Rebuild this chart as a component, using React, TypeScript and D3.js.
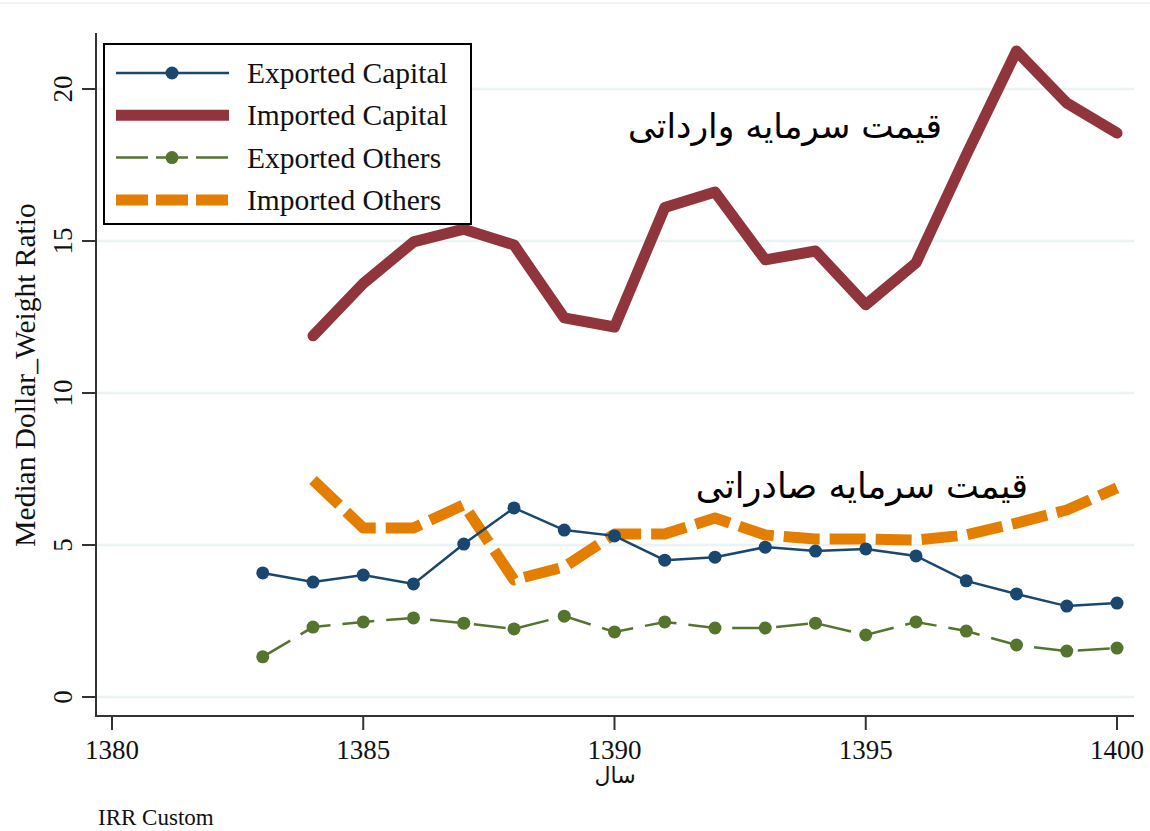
import React from "react";
import * as d3 from "d3";

const years = [1383,1384,1385,1386,1387,1388,1389,1390,1391,1392,1393,1394,1395,1396,1397,1398,1399,1400];
const exportedCapital = [4.08,3.78,4.01,3.72,5.03,6.22,5.49,5.3,4.5,4.6,4.93,4.8,4.87,4.64,3.82,3.39,2.99,3.09];
const exportedOthers = [1.32,2.3,2.47,2.6,2.43,2.24,2.66,2.14,2.47,2.27,2.27,2.43,2.04,2.47,2.17,1.71,1.51,1.61];
const importYears = [1384,1385,1386,1387,1388,1389,1390,1391,1392,1393,1394,1395,1396,1397,1398,1399,1400];
const importedCapital = [11.88,13.6,14.97,15.39,14.87,12.47,12.17,16.1,16.61,14.38,14.67,12.9,14.28,17.83,21.25,19.54,18.55];
const importedOthers = [7.14,5.56,5.56,6.32,3.85,4.28,5.36,5.36,5.89,5.33,5.2,5.2,5.16,5.33,5.72,6.15,6.88];
const xTicks = [1380,1385,1390,1395,1400];
const yTicks = [0,5,10,15,20];
const legendLabels = ["Exported Capital","Imported Capital","Exported Others","Imported Others"];

const W = 1150, H = 831;
const x = d3.scaleLinear().domain([1380, 1400]).range([112, 1117]);
const y = d3.scaleLinear().domain([0, 20]).range([697, 89]);
const serif = "'Liberation Serif', 'Times New Roman', serif";
const sans = "'DejaVu Sans', 'Noto Sans', sans-serif";

const C = { blue: "#1a476f", maroon: "#90353b", green: "#55752f", orange: "#e37e00" };

export default function App() {
  const line = d3.line<[number, number]>().x(d => x(d[0])).y(d => y(d[1]));
  const ec = years.map((yr, i) => [yr, exportedCapital[i]] as [number, number]);
  const eo = years.map((yr, i) => [yr, exportedOthers[i]] as [number, number]);
  const ic = importYears.map((yr, i) => [yr, importedCapital[i]] as [number, number]);
  const io = importYears.map((yr, i) => [yr, importedOthers[i]] as [number, number]);

  const axisLeft = 96, axisBottom = 716, axisTop = 33, axisRight = 1134;

  const legendStyles = [
    { color: C.blue, width: 2.5, dash: undefined as string | undefined, marker: 6.5 },
    { color: C.maroon, width: 11, dash: undefined, marker: 0 },
    { color: C.green, width: 2.5, dash: "32 8", marker: 6.5 },
    { color: C.orange, width: 11, dash: "32 8", marker: 0 },
  ];

  return (
    <svg width={W} height={H} style={{ position: "absolute", left: 0, top: 0, background: "#fff" }}>
      <rect x={0} y={0} width={W} height={H} fill="#fff" />
      <line x1={0} x2={W} y1={3} y2={3} stroke="#eef3f4" strokeWidth={2} />
      {yTicks.map(t => (
        <line key={"g" + t} x1={axisLeft} x2={axisRight} y1={y(t)} y2={y(t)} stroke="#eaf2f3" strokeWidth={2.5} />
      ))}
      <line x1={axisLeft} x2={axisLeft} y1={axisTop} y2={axisBottom + 1} stroke="#333" strokeWidth={2} />
      <line x1={axisLeft - 1} x2={axisRight} y1={axisBottom} y2={axisBottom} stroke="#333" strokeWidth={2} />
      {yTicks.map(t => (
        <g key={"yt" + t}>
          <line x1={axisLeft - 14} x2={axisLeft} y1={y(t)} y2={y(t)} stroke="#333" strokeWidth={2} />
          <text transform={`translate(${axisLeft - 24},${y(t)}) rotate(-90)`} textAnchor="middle" fontFamily={serif} fontSize={27} fill="#111">{t}</text>
        </g>
      ))}
      {xTicks.map(t => (
        <g key={"xt" + t}>
          <line x1={x(t)} x2={x(t)} y1={axisBottom} y2={axisBottom + 14} stroke="#333" strokeWidth={2} />
          <text x={x(t)} y={759} textAnchor="middle" fontFamily={serif} fontSize={27} fill="#111">{t}</text>
        </g>
      ))}
      <text transform={`translate(35,375) rotate(-90)`} textAnchor="middle" fontFamily={serif} fontSize={29.5} fill="#111">Median Dollar_Weight Ratio</text>
      <text x={615} y={783} textAnchor="middle" fontFamily={sans} fontSize={22} fill="#111">سال</text>
      <text x={98} y={825} fontFamily={serif} fontSize={23} fill="#111">IRR Custom</text>

      <path d={line(ic) || ""} fill="none" stroke={C.maroon} strokeWidth={11} strokeLinejoin="round" strokeLinecap="round" />
      <path d={line(io) || ""} fill="none" stroke={C.orange} strokeWidth={11} strokeDasharray="36 10" strokeLinejoin="round" />
      <path d={line(ec) || ""} fill="none" stroke={C.blue} strokeWidth={2.5} />
      {ec.map((d, i) => <circle key={"ec" + i} cx={x(d[0])} cy={y(d[1])} r={6.5} fill={C.blue} />)}
      <path d={line(eo) || ""} fill="none" stroke={C.green} strokeWidth={2.5} strokeDasharray="32 12" />
      {eo.map((d, i) => <circle key={"eo" + i} cx={x(d[0])} cy={y(d[1])} r={6.5} fill={C.green} />)}

      <text x={942} y={138} textAnchor="start" fontFamily={sans} fontSize={34.5} fill="#000" direction="rtl">قیمت سرمایه وارداتی</text>
      <text x={1028} y={498} textAnchor="start" fontFamily={sans} fontSize={35} fill="#000" direction="rtl">قیمت سرمایه صادراتی</text>

      <rect x={104} y={44} width={367} height={180} fill="#fff" stroke="#000" strokeWidth={2} />
      {legendLabels.map((lab, i) => {
        const ly = 73 + i * 42.3;
        const s = legendStyles[i];
        return (
          <g key={"lg" + i}>
            <line x1={116} x2={229} y1={ly} y2={ly} stroke={s.color} strokeWidth={s.width} strokeDasharray={s.dash} />
            {s.marker > 0 && <circle cx={172} cy={ly} r={s.marker} fill={s.color} />}
            <text x={247} y={ly + 10} fontFamily={serif} fontSize={29.5} fill="#111">{lab}</text>
          </g>
        );
      })}
    </svg>
  );
}
